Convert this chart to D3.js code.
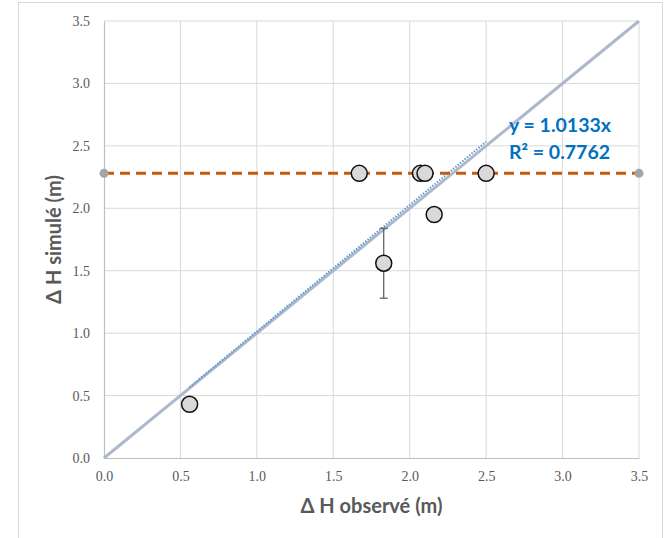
<!DOCTYPE html>
<html>
<head>
<meta charset="utf-8">
<script src="https://cdn.jsdelivr.net/npm/d3@7"></script>
<style>
  body { margin: 0; background: #fff; }
  svg { display: block; }
</style>
</head>
<body>
<div id="chart"></div>
<script>
// Observed vs simulated head difference
const observed = [0.56, 1.67, 2.07, 2.10, 2.50, 2.16, 1.83];
const simulated = [0.43, 2.28, 2.28, 2.28, 2.28, 1.95, 1.56];
const errors = [0, 0, 0, 0, 0, 0, 0.28];
const limitLevel = 2.28;
const slope = 1.0133;
const r2 = 0.7762;
const ticks = [0, 0.5, 1.0, 1.5, 2.0, 2.5, 3.0, 3.5];

const W = 667, H = 538;
const margin = { left: 104, right: 28, top: 21, bottom: 80 };

const svg = d3.select("#chart").append("svg")
    .attr("width", W)
    .attr("height", H);

// outer chart border
svg.append("rect")
    .attr("x", 18.5).attr("y", 2.5)
    .attr("width", 644).attr("height", 540)
    .attr("fill", "#fff")
    .attr("stroke", "#d9d9d9");

const x = d3.scaleLinear().domain([0, 3.5]).range([margin.left, W - margin.right]);
const y = d3.scaleLinear().domain([0, 3.5]).range([H - margin.bottom, margin.top]);

// gridlines
svg.append("g").selectAll("line.vg")
    .data(ticks.slice(1))
    .enter().append("line")
    .attr("x1", d => x(d)).attr("x2", d => x(d))
    .attr("y1", y(0)).attr("y2", y(3.5))
    .attr("stroke", "#d9d9d9").attr("stroke-width", 1);

svg.append("g").selectAll("line.hg")
    .data(ticks.slice(1))
    .enter().append("line")
    .attr("x1", x(0)).attr("x2", x(3.5))
    .attr("y1", d => y(d)).attr("y2", d => y(d))
    .attr("stroke", "#d9d9d9").attr("stroke-width", 1);

// axes
const xAxis = svg.append("g")
    .attr("transform", `translate(0,${y(0)})`)
    .call(d3.axisBottom(x).tickValues(ticks).tickFormat(d3.format(".1f")).tickSize(0).tickPadding(13));
const yAxis = svg.append("g")
    .attr("transform", `translate(${x(0)},0)`)
    .call(d3.axisLeft(y).tickValues(ticks).tickFormat(d3.format(".1f")).tickSize(0).tickPadding(14));

[xAxis, yAxis].forEach(a => {
    a.select(".domain").attr("stroke", "#bfbfbf").attr("stroke-width", 1.2);
    a.selectAll("text")
        .attr("fill", "#595959")
        .style("font-family", "'Liberation Serif', serif")
        .style("font-size", "14px");
});

// 1:1 line
svg.append("line")
    .attr("x1", x(0)).attr("y1", y(0))
    .attr("x2", x(3.5)).attr("y2", y(3.5))
    .attr("stroke", "#adb9ca").attr("stroke-width", 3);

// linear trendline through origin
const xr = d3.extent(observed);
svg.append("line")
    .attr("x1", x(xr[0])).attr("y1", y(slope * xr[0]))
    .attr("x2", x(xr[1])).attr("y2", y(slope * xr[1]))
    .attr("stroke", "#5b9bd5").attr("stroke-width", 2)
    .attr("stroke-dasharray", "1.5,1.5");

// limit level dashed line
svg.append("line")
    .attr("x1", x(0)).attr("y1", y(limitLevel))
    .attr("x2", x(3.5)).attr("y2", y(limitLevel))
    .attr("stroke", "#c55a11").attr("stroke-width", 3)
    .attr("stroke-dasharray", "10,6");

svg.selectAll(".endpt")
    .data([0, 3.5])
    .enter().append("circle")
    .attr("cx", d => x(d)).attr("cy", y(limitLevel))
    .attr("r", 4.5)
    .attr("fill", "#a5a5a5");

// error bars
const pts = observed.map((d, i) => ({ x: d, y: simulated[i], e: errors[i] }));
const eb = svg.append("g").selectAll("g")
    .data(pts.filter(d => d.e > 0))
    .enter().append("g")
    .attr("stroke", "#595959").attr("stroke-width", 1.2);
eb.append("line")
    .attr("x1", d => x(d.x)).attr("x2", d => x(d.x))
    .attr("y1", d => y(d.y - d.e)).attr("y2", d => y(d.y + d.e));
eb.append("line")
    .attr("x1", d => x(d.x) - 4).attr("x2", d => x(d.x) + 4)
    .attr("y1", d => y(d.y - d.e)).attr("y2", d => y(d.y - d.e));
eb.append("line")
    .attr("x1", d => x(d.x) - 4).attr("x2", d => x(d.x) + 4)
    .attr("y1", d => y(d.y + d.e)).attr("y2", d => y(d.y + d.e));

// data points
svg.selectAll(".pt")
    .data(pts)
    .enter().append("circle")
    .attr("cx", d => x(d.x)).attr("cy", d => y(d.y))
    .attr("r", 8)
    .attr("fill", "#d9d9d9")
    .attr("stroke", "#111")
    .attr("stroke-width", 1.5);

// trendline label
const lbl = svg.append("text")
    .attr("fill", "#0070c0")
    .style("font-family", "Lato, 'Open Sans', sans-serif")
    .style("font-weight", "bold")
    .style("font-size", "19.5px");
lbl.append("tspan").attr("x", 509).attr("y", 132).text(`y = ${slope}x`);
lbl.append("tspan").attr("x", 509).attr("y", 159).text(`R² = ${r2}`);

// axis titles
svg.append("text")
    .attr("x", (x(0) + x(3.5)) / 2).attr("y", 513)
    .attr("text-anchor", "middle")
    .attr("fill", "#595959")
    .style("font-family", "Lato, 'Open Sans', sans-serif")
    .style("font-weight", "bold")
    .style("font-size", "20px")
    .text("Δ H observé (m)");

svg.append("text")
    .attr("transform", `translate(61,${(y(0) + y(3.5)) / 2}) rotate(-90)`)
    .attr("text-anchor", "middle")
    .attr("fill", "#595959")
    .style("font-family", "Lato, 'Open Sans', sans-serif")
    .style("font-weight", "bold")
    .style("font-size", "20px")
    .text("Δ H simulé (m)");
</script>
</body>
</html>
